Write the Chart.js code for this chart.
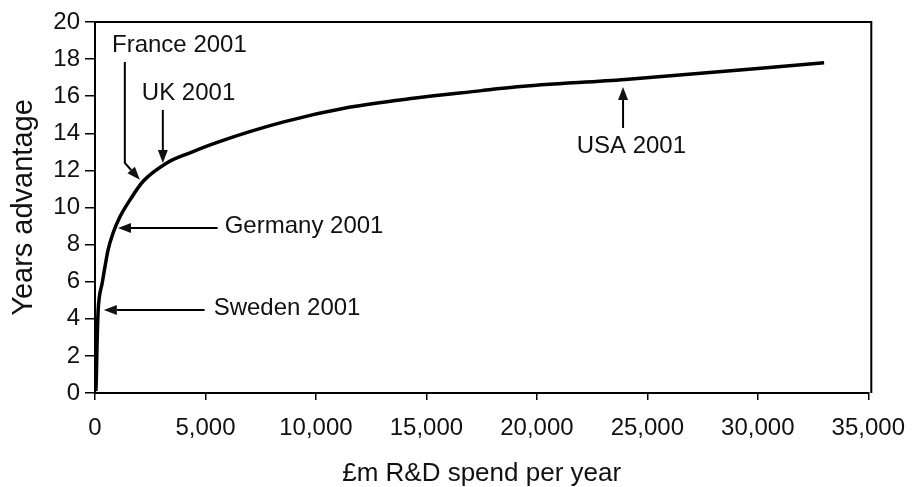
<!DOCTYPE html>
<html>
<head>
<meta charset="utf-8">
<script src="https://cdn.jsdelivr.net/npm/chart.js@4.4.1/dist/chart.umd.min.js"></script>
<style>
  html, body { margin: 0; padding: 0; background: #fff; }
  #wrap { width: 919px; height: 487px; }
</style>
</head>
<body>
<div id="wrap"><canvas id="myChart"></canvas></div>
<script>
// £m R&D spend per year vs years advantage
var spend = [40, 60, 90, 140, 200, 320, 450, 590, 810, 1130, 1580, 2170, 3250, 4300, 5500, 8500, 11500, 14500, 17500, 19000, 24000, 33000];
var years = [0.1, 0.8, 2.5, 4.4, 5.2, 5.9, 6.8, 7.7, 8.6, 9.5, 10.4, 11.4, 12.4, 12.95, 13.5, 14.6, 15.4, 15.9, 16.3, 16.5, 16.9, 17.8];

var xTicks = [0, 5000, 10000, 15000, 20000, 25000, 30000, 35000];
var yTicks = [0, 2, 4, 6, 8, 10, 12, 14, 16, 18, 20];

// country call-outs, all in data units
var noteLabels = ["France 2001", "UK 2001", "Germany 2001", "Sweden 2001", "USA 2001"];
var noteTips = [[2030, 11.5], [3070, 12.4], [1040, 8.9], [400, 4.47], [23900, 16.5]];

var FONT = '"Liberation Sans", Arial, Helvetica, sans-serif';

// where the label text and arrow tails sit
var noteLayout = [
  { text: [770, 18.76], path: [[1350, 17.84], [1350, 12.4]] },
  { text: [2120, 16.17], path: [[3070, 15.26]] },
  { text: [5870, 9.0], path: [[5550, 8.9]] },
  { text: [5370, 4.58], path: [[4960, 4.47]] },
  { text: [21800, 13.3], path: [[23900, 14.29]] }
];

var notesPlugin = {
  id: "notes",
  afterDraw: function (chart) {
    var ctx = chart.ctx;
    var xs = chart.scales.x, ys = chart.scales.y;
    var a = chart.chartArea;

    // frame: top and right edges
    ctx.save();
    ctx.strokeStyle = "#000";
    ctx.lineWidth = 2;
    ctx.beginPath();
    ctx.moveTo(a.left, a.top);
    ctx.lineTo(a.right + 3, a.top);
    ctx.lineTo(a.right + 3, a.bottom);
    ctx.stroke();

    ctx.font = "24px " + FONT;
    ctx.fillStyle = "#111";
    ctx.textBaseline = "middle";
    ctx.textAlign = "left";

    noteLabels.forEach(function (lbl, i) {
      var lay = noteLayout[i];
      ctx.fillText(lbl, xs.getPixelForValue(lay.text[0]), ys.getPixelForValue(lay.text[1]));

      var pts = lay.path.concat([noteTips[i]]).map(function (p) {
        return [xs.getPixelForValue(p[0]), ys.getPixelForValue(p[1])];
      });
      var tip = pts[pts.length - 1];
      var prev = pts[pts.length - 2];
      var ang = Math.atan2(tip[1] - prev[1], tip[0] - prev[0]);
      var len = 13, half = 5;
      var bx = tip[0] - len * Math.cos(ang), by = tip[1] - len * Math.sin(ang);

      ctx.lineWidth = 2;
      ctx.beginPath();
      ctx.moveTo(pts[0][0], pts[0][1]);
      for (var k = 1; k < pts.length - 1; k++) ctx.lineTo(pts[k][0], pts[k][1]);
      ctx.lineTo(bx, by);
      ctx.stroke();

      ctx.beginPath();
      ctx.moveTo(tip[0], tip[1]);
      ctx.lineTo(bx + half * Math.sin(ang), by - half * Math.cos(ang));
      ctx.lineTo(bx - half * Math.sin(ang), by + half * Math.cos(ang));
      ctx.closePath();
      ctx.fill();
    });
    ctx.restore();
  }
};

var ctx = document.getElementById("myChart").getContext("2d");
var chart = new Chart(ctx, {
  type: "line",
  data: {
    datasets: [
      {
        data: spend.map(function (s, i) { return { x: s, y: years[i] }; }),
        borderColor: "#000",
        borderWidth: 3.5,
        pointRadius: 0,
        cubicInterpolationMode: "monotone",
        fill: false
      }
    ]
  },
  options: {
    responsive: true,
    maintainAspectRatio: false,
    animation: false,
    layout: { padding: { top: 22, right: 47, left: 0, bottom: 0 } },
    plugins: { legend: { display: false }, tooltip: { enabled: false } },
    scales: {
      x: {
        type: "linear",
        min: 0,
        max: 35000,
        afterFit: function (s) { s.height = 94; },
        afterBuildTicks: function (s) { s.ticks = xTicks.map(function (v) { return { value: v }; }); },
        ticks: {
          color: "#111",
          font: { family: FONT, size: 24 },
          padding: 14,
          maxRotation: 0,
          callback: function (v) { return v.toLocaleString("en-US"); }
        },
        grid: { drawOnChartArea: false, color: "#000", lineWidth: 1.5, tickLength: 7 },
        border: { color: "#000", width: 2 },
        title: {
          display: true,
          text: "£m R&D spend per year",
          color: "#111",
          font: { family: FONT, size: 26, lineHeight: 1 },
          padding: { top: 0, bottom: 0 }
        }
      },
      y: {
        min: 0,
        max: 20,
        afterFit: function (s) { s.width = 95; },
        afterBuildTicks: function (s) { s.ticks = yTicks.map(function (v) { return { value: v }; }); },
        ticks: {
          color: "#111",
          font: { family: FONT, size: 24 },
          padding: 5
        },
        grid: { drawOnChartArea: false, color: "#000", lineWidth: 1.5, tickLength: 10 },
        border: { color: "#000", width: 2 },
        title: {
          display: true,
          text: "Years advantage",
          color: "#111",
          font: { family: FONT, size: 29, lineHeight: 1 },
          padding: { top: 9, bottom: 0 }
        }
      }
    }
  },
  plugins: [notesPlugin]
});
</script>
</body>
</html>
